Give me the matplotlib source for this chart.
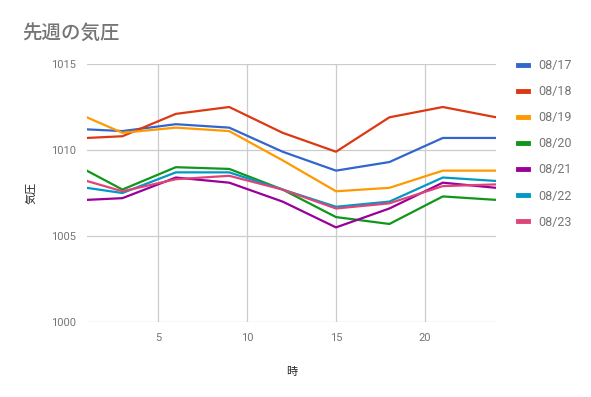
import matplotlib
matplotlib.use('Agg')
import matplotlib.pyplot as plt

plt.rcParams['font.family'] = ['Roboto', 'Noto Sans CJK JP', 'DejaVu Sans']

# data
hours = [1, 3, 6, 9, 12, 15, 18, 21, 24]
dates = ['08/17', '08/18', '08/19', '08/20', '08/21', '08/22', '08/23']
p_0817 = [1011.2, 1011.1, 1011.5, 1011.3, 1009.9, 1008.8, 1009.3, 1010.7, 1010.7]
p_0818 = [1010.7, 1010.8, 1012.1, 1012.5, 1011.0, 1009.9, 1011.9, 1012.5, 1011.9]
p_0819 = [1011.9, 1011.0, 1011.3, 1011.1, 1009.4, 1007.6, 1007.8, 1008.8, 1008.8]
p_0820 = [1008.8, 1007.7, 1009.0, 1008.9, 1007.7, 1006.1, 1005.7, 1007.3, 1007.1]
p_0821 = [1007.1, 1007.2, 1008.4, 1008.1, 1007.0, 1005.5, 1006.6, 1008.1, 1007.8]
p_0822 = [1007.8, 1007.5, 1008.7, 1008.7, 1007.7, 1006.7, 1007.0, 1008.4, 1008.2]
p_0823 = [1008.2, 1007.6, 1008.3, 1008.5, 1007.7, 1006.6, 1006.9, 1007.9, 1008.0]
series = [p_0817, p_0818, p_0819, p_0820, p_0821, p_0822, p_0823]
colors = ['#3366cc', '#dc3912', '#ff9900', '#109618', '#990099', '#0099c6', '#dd4477']

fig = plt.figure(figsize=(5.91, 3.97), dpi=100)
ax = fig.add_axes([0.1469, 0.1889, 0.6927, 0.6499])

for vals, c, lab in zip(series, colors, dates):
    ax.plot(hours, vals, color=c, linewidth=1.6, label=lab, solid_joinstyle='round')

ax.set_xlim(1, 24)
ax.set_ylim(1000, 1015)
ax.set_xticks([5, 10, 15, 20])
ax.set_yticks([1000, 1005, 1010, 1015])
ax.grid(True, color='#cccccc', linewidth=0.9)
ax.set_axisbelow(True)
for s in ax.spines.values():
    s.set_visible(False)
ax.tick_params(length=0, labelsize=8, labelcolor='#757575', pad=8)

ax.set_xlabel('時', fontsize=8, color='#222222', labelpad=17)
ax.set_ylabel('気圧', fontsize=8, color='#222222', labelpad=10)
fig.text(22 / 591, 1 - 33 / 397, '先週の気圧', fontsize=14, color='#757575',
         va='center', ha='left', fontweight='medium')

leg = fig.legend(loc='upper left', bbox_to_anchor=(518 / 591, 1 - 59 / 397),
                 frameon=False, fontsize=9, labelcolor='#757575',
                 handlelength=0.8, handletextpad=0.8, labelspacing=1.05,
                 borderpad=0, borderaxespad=0)
for h in leg.get_lines():
    h.set_linewidth(3.5)

plt.savefig('out.png', dpi=100)
